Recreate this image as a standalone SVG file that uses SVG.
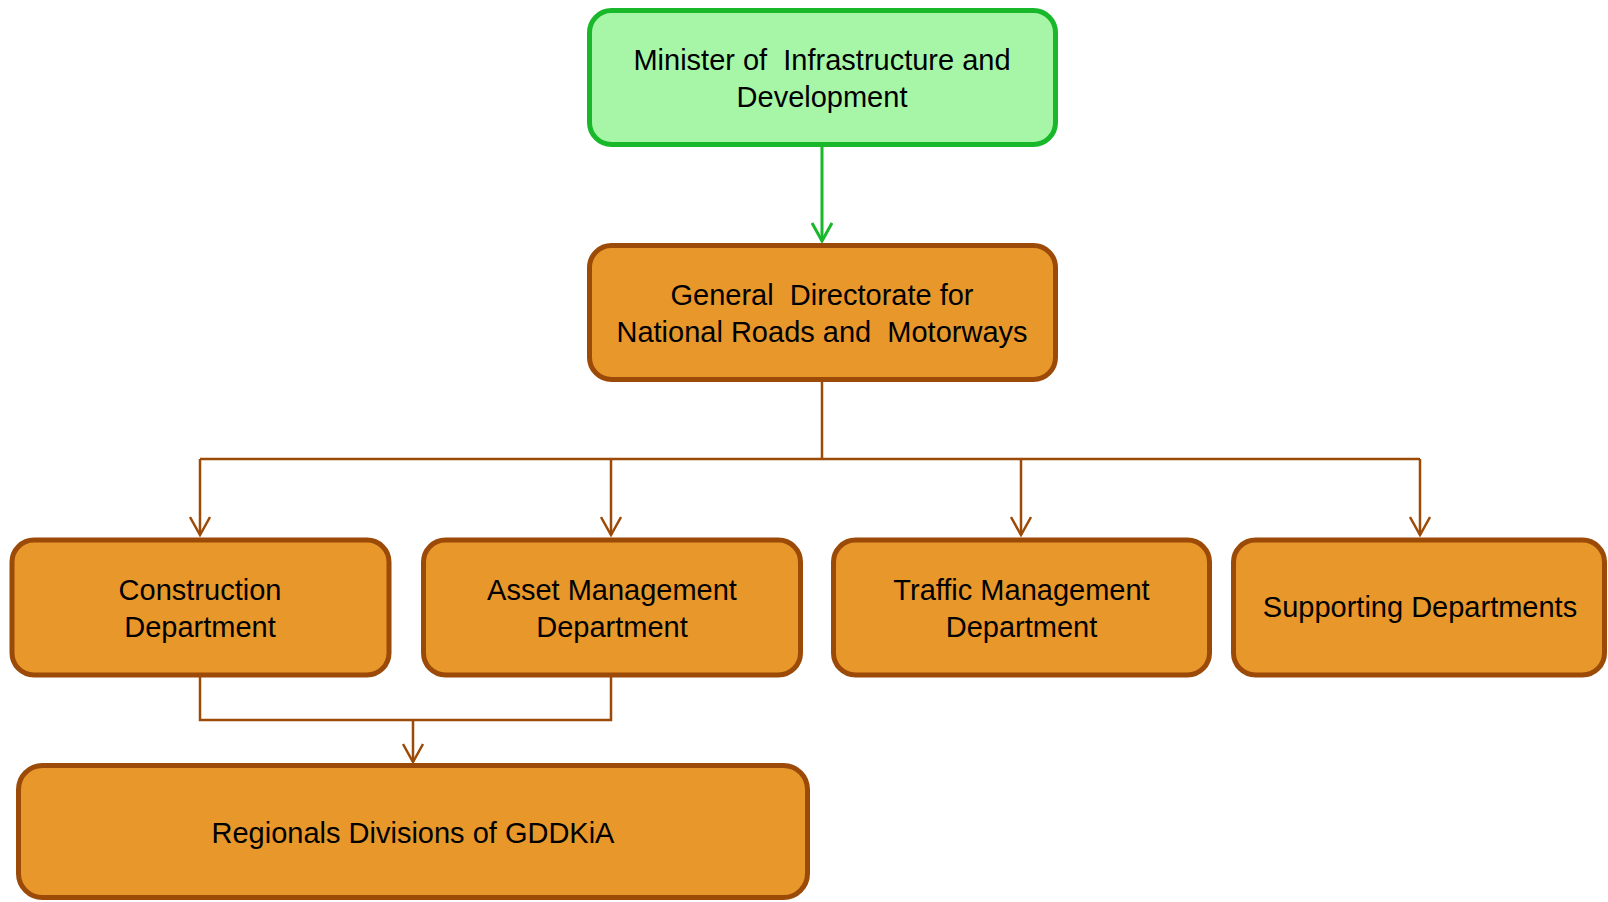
<svg xmlns="http://www.w3.org/2000/svg" width="1608" height="902" viewBox="0 0 1608 902">
  <style>
    .box { fill: #E8972B; stroke: #9C4A07; stroke-width: 5; }
    .top { fill: #A7F6A7; stroke: #18B82A; stroke-width: 5; }
    .lbl { font-family: "Liberation Sans", Arial, sans-serif; font-size: 29px; fill: #000; text-anchor: middle; white-space: pre; }
    .link { fill: none; stroke: #9C4A07; stroke-width: 2.5; }
    .link-green { fill: none; stroke: #18B82A; stroke-width: 3; }
  </style>
  <defs>
    <marker id="arrow-brown" markerUnits="userSpaceOnUse" viewBox="0 0 22 22" markerWidth="22" markerHeight="22" refX="19" refY="11" orient="auto">
      <path d="M1,1 L19,11 L1,21" fill="none" stroke="#9C4A07" stroke-width="2.5"/>
    </marker>
    <marker id="arrow-green" markerUnits="userSpaceOnUse" viewBox="0 0 22 22" markerWidth="22" markerHeight="22" refX="19" refY="11" orient="auto">
      <path d="M1,1 L19,11 L1,21" fill="none" stroke="#18B82A" stroke-width="3"/>
    </marker>
  </defs>

  <rect width="1608" height="902" fill="#FFFFFF"/>

  <g id="connectors">
    <path class="link-green" d="M822,147 V241" marker-end="url(#arrow-green)"/>
    <path class="link" d="M822,382 V459"/>
    <path class="link" d="M200,459 H1420"/>
    <path class="link" d="M200,459 V535" marker-end="url(#arrow-brown)"/>
    <path class="link" d="M611,459 V535" marker-end="url(#arrow-brown)"/>
    <path class="link" d="M1021,459 V535" marker-end="url(#arrow-brown)"/>
    <path class="link" d="M1420,459 V535" marker-end="url(#arrow-brown)"/>
    <path class="link" d="M200,677 V720 H611 V677"/>
    <path class="link" d="M413,720 V762" marker-end="url(#arrow-brown)"/>
  </g>

  <g id="minister">
    <rect class="top" x="589.5" y="10.5" width="466" height="134" rx="22"/>
    <text class="lbl" x="822" y="70">Minister of  Infrastructure and</text>
    <text class="lbl" x="822" y="107">Development</text>
  </g>

  <g id="gddkia">
    <rect class="box" x="589.5" y="245.5" width="466" height="134" rx="22"/>
    <text class="lbl" x="822" y="305">General  Directorate for</text>
    <text class="lbl" x="822" y="342">National Roads and  Motorways</text>
  </g>

  <g id="construction">
    <rect class="box" x="12" y="540" width="377" height="135" rx="22"/>
    <text class="lbl" x="200" y="600">Construction</text>
    <text class="lbl" x="200" y="637">Department</text>
  </g>

  <g id="asset-management">
    <rect class="box" x="423.5" y="540" width="377" height="135" rx="22"/>
    <text class="lbl" x="612" y="600">Asset Management</text>
    <text class="lbl" x="612" y="637">Department</text>
  </g>

  <g id="traffic-management">
    <rect class="box" x="833.5" y="540" width="376" height="135" rx="22"/>
    <text class="lbl" x="1021.5" y="600">Traffic Management</text>
    <text class="lbl" x="1021.5" y="637">Department</text>
  </g>

  <g id="supporting">
    <rect class="box" x="1233.5" y="540" width="371" height="135" rx="22"/>
    <text class="lbl" x="1420" y="617">Supporting Departments</text>
  </g>

  <g id="regional-divisions">
    <rect class="box" x="18.5" y="765.5" width="789" height="132" rx="24"/>
    <text class="lbl" x="413" y="843">Regionals Divisions of GDDKiA</text>
  </g>
</svg>
